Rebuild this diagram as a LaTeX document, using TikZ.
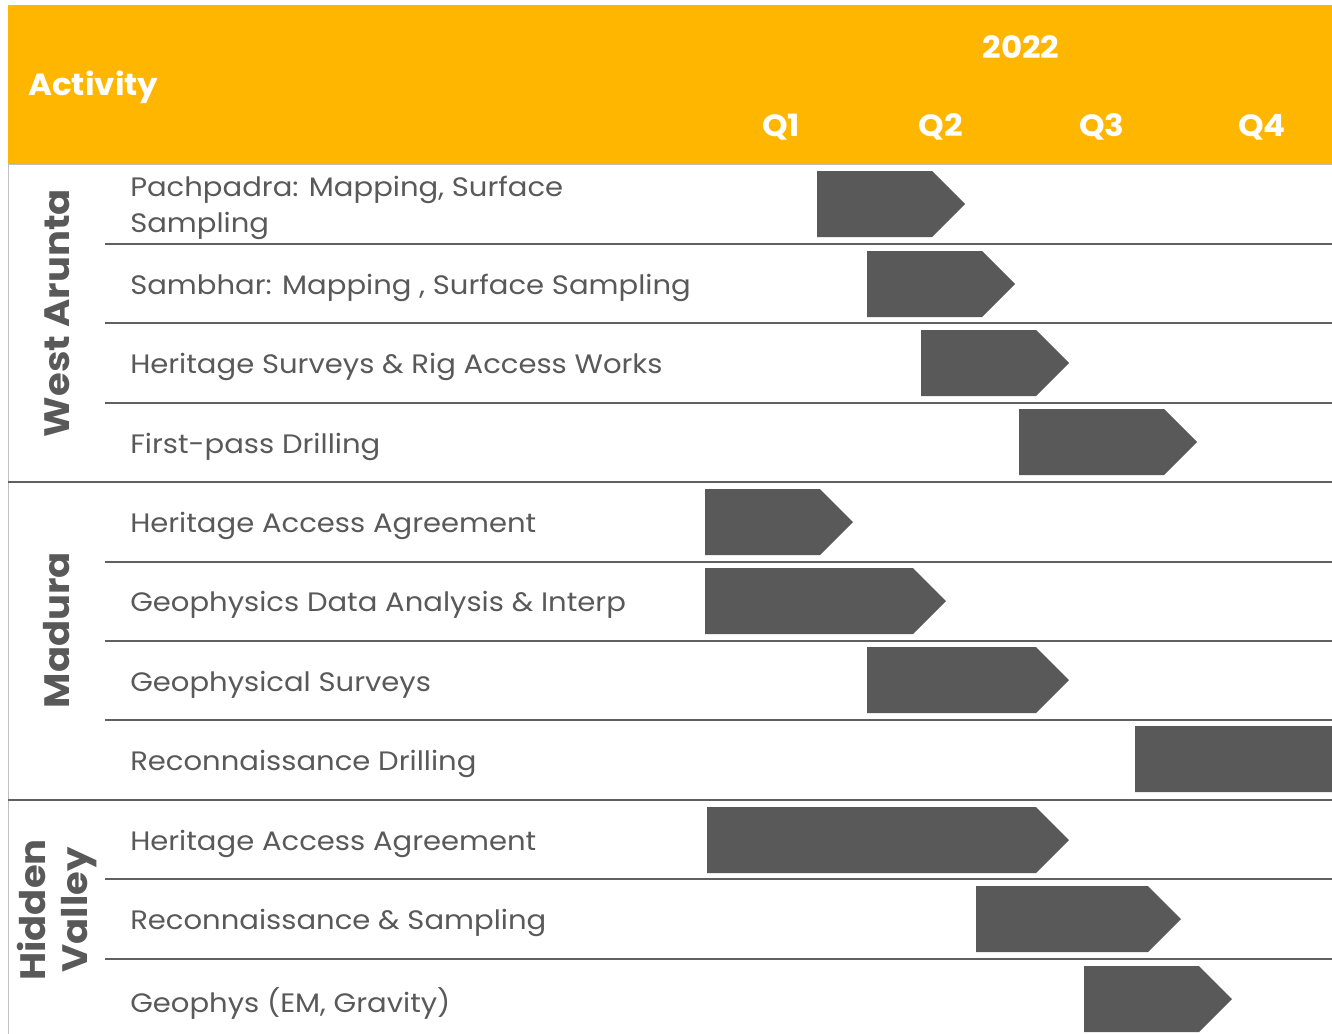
\documentclass[tikz,border=0pt]{standalone}
\usepackage{fontspec}
\setmainfont{Poppins}
\newfontfamily\widefont[FakeStretch=1.09]{Poppins}
\newfontfamily\hdrfont[FakeStretch=1.06]{Poppins}
\usetikzlibrary{positioning}
\definecolor{hdrorange}{HTML}{FFB600}
\definecolor{bargray}{HTML}{595959}
\definecolor{rulegray}{HTML}{606060}
\definecolor{edgegray}{HTML}{C0C0C0}

\begin{document}
\begin{tikzpicture}[
    x=0.75pt, y=-0.75pt,
    hdr/.style={text=white, inner sep=0pt, font=\hdrfont\fontsize{23}{26}\selectfont\bfseries},
    act/.style={anchor=west, text=bargray, inner sep=0pt, align=left, font=\widefont\fontsize{20}{26.5}\selectfont},
    grp/.style={rotate=90, text=bargray, inner sep=0pt, align=center, font=\widefont\fontsize{26.5}{31}\selectfont\bfseries},
    sep/.style={draw=rulegray, line width=1.5pt},
    bar/.style={fill=bargray}
]
    \useasboundingbox (0,0) rectangle (1332,1033);
    \clip (0,0) rectangle (1332,1033);

    % header band
    \fill[hdrorange] (8,5) rectangle (1340,164);
    \draw[edgegray, line width=0.75pt] (8,164) -- (1340,164);
    \draw[edgegray, line width=0.75pt] (8,164) -- (8,1040);

    \node[hdr, anchor=west] (activity) at (28,87) {Activity};
    \node[hdr] (year) at (1021,47) {2022};
    \foreach \q/\x in {1/781, 2/941, 3/1102, 4/1262}
        \node[hdr] (q\q) at (\x,127) {Q\q};

    % row rules
    \foreach \y in {244, 323, 403, 562, 641, 720, 879, 959}
        \draw[sep] (105,\y) -- (1340,\y);
    \foreach \y in {482, 800}
        \draw[sep] (8,\y) -- (1340,\y);

    % group labels
    \node[grp] (westarunta) at (57,313) {West Arunta};
    \node[grp] (madura) at (57,630) {Madura};
    \node[grp] (hiddenvalley) at (57,910) {Hidden\\Valley};

    % activities
    \node[act] (act1) at (130,208) {Pachpadra: Mapping, Surface\\Sampling};
    \node[act] (act2) at (130,288) {Sambhar: Mapping , Surface Sampling};
    \node[act] (act3) at (130,367) {Heritage Surveys \& Rig Access Works};
    \node[act] (act4) at (130,447) {First-pass Drilling};
    \node[act] (act5) at (130,526) {Heritage Access Agreement};
    \node[act] (act6) at (130,605) {Geophysics Data Analysis \& Interp};
    \node[act] (act7) at (130,685) {Geophysical Surveys};
    \node[act] (act8) at (130,764) {Reconnaissance Drilling};
    \node[act] (act9) at (130,844) {Heritage Access Agreement};
    \node[act] (act10) at (130,923) {Reconnaissance \& Sampling};
    \node[act] (act11) at (130,1003) {Geophys (EM, Gravity)};

    % schedule bars: centre / start / end of body
    \foreach \c/\xa/\xb in {204/817/932, 284/867/982, 363/921/1036, 442/1019/1164,
                            522/705/820, 601/705/913, 680/867/1036, 759/1135/1345,
                            840/707/1036, 919/976/1148, 999/1084/1199}
        \fill[bar] (\xa,\c-33) -- (\xb,\c-33) -- (\xb+33,\c) -- (\xb,\c+33) -- (\xa,\c+33) -- cycle;
\end{tikzpicture}
\end{document}
